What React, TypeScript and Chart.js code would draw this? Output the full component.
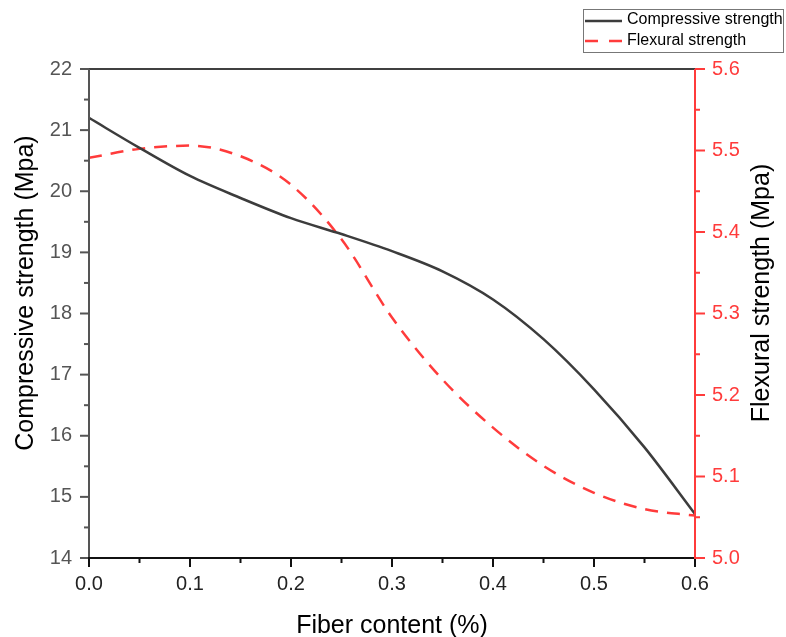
import React, { useEffect, useRef } from "react";
import { Chart, registerables } from "chart.js";

Chart.register(...registerables);

const fiberContent = [0, 0.05, 0.1, 0.15, 0.2, 0.25, 0.3, 0.35, 0.4, 0.45, 0.5, 0.55, 0.6];
const compressive = [21.2, 20.71, 20.25, 19.89, 19.56, 19.3, 19.02, 18.69, 18.23, 17.58, 16.76, 15.81, 14.72];
const flexural = [5.491, 5.502, 5.506, 5.493, 5.458, 5.391, 5.295, 5.219, 5.16, 5.113, 5.08, 5.06, 5.052];

const seriesNames = ["Compressive strength", "Flexural strength"];
const xTitle = "Fiber content (%)";
const yTitle = "Compressive strength (Mpa)";
const y1Title = "Flexural strength (Mpa)";

const FONT = '"Liberation Sans", Arial, sans-serif';
const RED = "#ff3b3b";
const BLACK_LINE = "#3c3c3c";

const decorPlugin = {
  id: "decor",
  afterDatasetsDraw(chart: any) {
    const ctx = chart.ctx;
    const { left, right, top, bottom } = chart.chartArea;
    const xs = chart.scales.x;
    const ys = chart.scales.y;
    const y1 = chart.scales.y1;
    ctx.save();
    // top border
    ctx.strokeStyle = "#000";
    ctx.lineWidth = 1.5;
    ctx.beginPath();
    ctx.moveTo(left, top);
    ctx.lineTo(right, top);
    ctx.stroke();
    // left axis
    ctx.strokeStyle = "#555";
    ctx.lineWidth = 2;
    ctx.beginPath();
    ctx.moveTo(left, top);
    ctx.lineTo(left, bottom);
    ctx.stroke();
    for (let v = 14; v <= 22.0001; v += 0.5) {
      const p = ys.getPixelForValue(v);
      const major = Math.abs(v - Math.round(v)) < 1e-6;
      ctx.beginPath();
      ctx.moveTo(left, p);
      ctx.lineTo(left - (major ? 9 : 5), p);
      ctx.stroke();
    }
    // bottom axis
    ctx.strokeStyle = "#111";
    ctx.lineWidth = 2;
    ctx.beginPath();
    ctx.moveTo(left - 1, bottom);
    ctx.lineTo(right, bottom);
    ctx.stroke();
    for (let i = 0; i <= 12; i++) {
      const v = i * 0.05;
      const p = xs.getPixelForValue(v);
      const major = i % 2 === 0;
      ctx.beginPath();
      ctx.moveTo(p, bottom);
      ctx.lineTo(p, bottom + (major ? 9 : 5));
      ctx.stroke();
    }
    // right axis
    ctx.strokeStyle = RED;
    ctx.lineWidth = 2;
    ctx.beginPath();
    ctx.moveTo(right, top);
    ctx.lineTo(right, bottom + 1);
    ctx.stroke();
    for (let i = 0; i <= 12; i++) {
      const v = 5 + i * 0.05;
      const p = y1.getPixelForValue(v);
      const major = i % 2 === 0;
      ctx.beginPath();
      ctx.moveTo(right, p);
      ctx.lineTo(right + (major ? 10 : 5), p);
      ctx.stroke();
    }
    // titles
    ctx.fillStyle = "#000";
    ctx.font = `25px ${FONT}`;
    ctx.textAlign = "center";
    ctx.textBaseline = "alphabetic";
    ctx.fillText(xTitle, (left + right) / 2, 633);
    ctx.textBaseline = "middle";
    ctx.save();
    ctx.translate(26, 293);
    ctx.rotate(-Math.PI / 2);
    ctx.fillText(yTitle, 0, 0);
    ctx.restore();
    ctx.save();
    ctx.translate(762, 293);
    ctx.rotate(-Math.PI / 2);
    ctx.fillText(y1Title, 0, 0);
    ctx.restore();
    // legend
    ctx.strokeStyle = "#777";
    ctx.lineWidth = 1;
    ctx.strokeRect(583.5, 9.5, 200, 43);
    ctx.lineWidth = 2.5;
    ctx.strokeStyle = BLACK_LINE;
    ctx.setLineDash([]);
    ctx.beginPath();
    ctx.moveTo(585, 21);
    ctx.lineTo(622, 21);
    ctx.stroke();
    ctx.strokeStyle = RED;
    ctx.setLineDash([13, 11]);
    ctx.beginPath();
    ctx.moveTo(585, 41);
    ctx.lineTo(622, 41);
    ctx.stroke();
    ctx.setLineDash([]);
    ctx.fillStyle = "#000";
    ctx.font = `16px ${FONT}`;
    ctx.textAlign = "left";
    ctx.textBaseline = "middle";
    ctx.fillText(seriesNames[0], 627, 20);
    ctx.fillText(seriesNames[1], 627, 41);
    ctx.restore();
  },
};

export default function App() {
  const ref = useRef<HTMLCanvasElement>(null);
  useEffect(() => {
    document.body.style.margin = "0";
    const canvas = ref.current!;
    const chart = new Chart(canvas, {
      type: "line",
      data: {
        datasets: [
          {
            label: seriesNames[0],
            data: fiberContent.map((x, i) => ({ x, y: compressive[i] })),
            borderColor: BLACK_LINE,
            borderWidth: 2.5,
            pointRadius: 0,
            cubicInterpolationMode: "monotone",
            yAxisID: "y",
          },
          {
            label: seriesNames[1],
            data: fiberContent.map((x, i) => ({ x, y: flexural[i] })),
            borderColor: RED,
            borderWidth: 2.5,
            borderDash: [13, 9],
            pointRadius: 0,
            cubicInterpolationMode: "monotone",
            yAxisID: "y1",
          },
        ],
      },
      options: {
        animation: false,
        responsive: false,
        maintainAspectRatio: false,
        layout: { padding: { top: 69, left: 0, right: 0, bottom: 0 } },
        plugins: { legend: { display: false }, tooltip: { enabled: false } },
        scales: {
          x: {
            type: "linear",
            position: "bottom",
            min: 0,
            max: 0.6,
            grid: { display: false, drawTicks: false },
            border: { display: false },
            ticks: {
              stepSize: 0.1,
              padding: 14,
              color: "#222",
              font: { family: FONT, size: 20 },
              callback: (v: any) => Number(v).toFixed(1),
            },
            afterFit: (s: any) => {
              s.height = 79;
            },
          },
          y: {
            type: "linear",
            position: "left",
            min: 14,
            max: 22,
            grid: { display: false, drawTicks: false },
            border: { display: false },
            ticks: {
              stepSize: 1,
              padding: 17,
              color: "#555",
              font: { family: FONT, size: 20 },
            },
            afterFit: (s: any) => {
              s.width = 89;
            },
          },
          y1: {
            type: "linear",
            position: "right",
            min: 5.0,
            max: 5.6,
            grid: { display: false, drawTicks: false },
            border: { display: false },
            ticks: {
              stepSize: 0.1,
              padding: 17,
              color: RED,
              font: { family: FONT, size: 20 },
              callback: (v: any) => Number(v).toFixed(1),
            },
            afterFit: (s: any) => {
              s.width = 91;
            },
          },
        },
      },
      plugins: [decorPlugin],
    });
    return () => chart.destroy();
  }, []);
  return (
    <div style={{ width: 786, height: 637, background: "#fff" }}>
      <canvas ref={ref} width={786} height={637} style={{ display: "block" }} />
    </div>
  );
}
